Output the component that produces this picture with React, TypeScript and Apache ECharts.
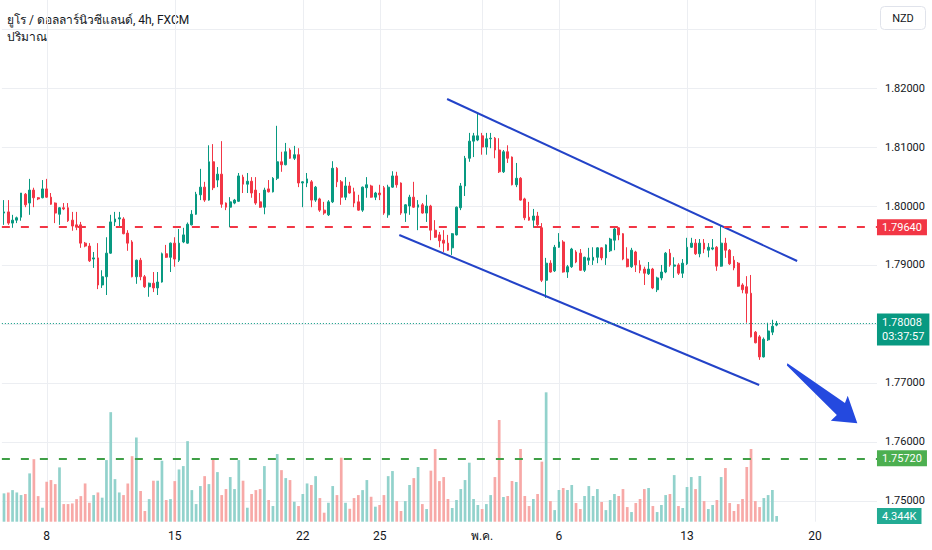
import React, { useEffect, useRef } from 'react';
import * as echarts from 'echarts';

const FONT = "Roboto, 'Noto Sans', 'DejaVu Sans', sans-serif";

const TITLE = 'ยูโร / ดอลลาร์นิวซีแลนด์, 4h, FXCM';
const VOLUME_TITLE = 'ปริมาณ';
const CURRENCY = 'NZD';

const OPEN = [1.7988,1.7990,1.7971,1.7976,1.7981,1.8020,1.8005,1.8027,1.8014,1.8014,
1.8029,1.8015,1.8005,1.7986,1.7997,1.7997,1.7976,1.7968,1.7968,1.7937,
1.7932,1.7910,1.7912,1.7866,1.7880,1.7920,1.7973,1.7978,1.7978,1.7954,
1.7939,1.7880,1.7908,1.7880,1.7863,1.7869,1.7861,1.7871,1.7919,1.7913,
1.7937,1.7908,1.7939,1.7937,1.7968,1.7986,1.8019,1.8032,1.8010,1.8075,
1.8044,1.8054,1.8005,1.7998,1.8005,1.8008,1.8049,1.8037,1.8042,1.8027,
1.8007,1.7998,1.8029,1.8024,1.8047,1.8075,1.8070,1.8095,1.8081,1.8087,
1.8039,1.8039,1.8041,1.8010,1.8012,1.7993,1.7985,1.8007,1.8064,1.8041,
1.8015,1.8034,1.8024,1.8007,1.7993,1.8031,1.8034,1.8015,1.8022,1.8031,
1.7985,1.8032,1.8051,1.8039,1.7988,1.8000,1.8015,1.7998,1.8002,1.7988,
1.8000,1.7959,1.7951,1.7942,1.7937,1.7929,1.7951,1.7997,1.8034,1.8081,
1.8110,1.8112,1.8119,1.8100,1.8114,1.8115,1.8095,1.8058,1.8092,1.8083,
1.8036,1.8047,1.8012,1.7981,1.7976,1.7983,1.7963,1.7874,1.7903,1.7890,
1.7930,1.7939,1.7888,1.7897,1.7922,1.7920,1.7891,1.7908,1.7908,1.7913,
1.7929,1.7912,1.7924,1.7942,1.7963,1.7953,1.7910,1.7897,1.7922,1.7900,
1.7893,1.7885,1.7893,1.7858,1.7878,1.7888,1.7920,1.7898,1.7900,1.7886,
1.7902,1.7930,1.7937,1.7919,1.7937,1.7925,1.7927,1.7930,1.7898,1.7937,
1.7925,1.7908,1.7903,1.7866,1.7863,1.7852,1.7786,1.7778,1.7744,1.7773,
1.7786,1.7798];

const HIGH = [1.8010,1.8010,1.7985,1.7982,1.8022,1.8022,1.8046,1.8031,1.8015,1.8044,
1.8046,1.8022,1.8006,1.7998,1.8005,1.8005,1.7990,1.7990,1.7973,1.7939,
1.7937,1.7922,1.7937,1.7891,1.7947,1.7985,1.7990,1.7990,1.7981,1.7959,
1.7942,1.7909,1.7912,1.7883,1.7870,1.7888,1.7888,1.7921,1.7934,1.7938,
1.7947,1.7961,1.7963,1.7972,1.7993,1.8024,1.8063,1.8041,1.8103,1.8105,
1.8066,1.8110,1.8006,1.8015,1.8012,1.8056,1.8053,1.8056,1.8049,1.8049,
1.8022,1.8031,1.8044,1.8049,1.8136,1.8092,1.8107,1.8098,1.8102,1.8098,
1.8042,1.8056,1.8044,1.8034,1.8014,1.8007,1.8010,1.8076,1.8066,1.8044,
1.8049,1.8041,1.8031,1.8019,1.8033,1.8049,1.8036,1.8024,1.8036,1.8034,
1.8036,1.8059,1.8058,1.8040,1.8003,1.8019,1.8041,1.8010,1.8005,1.8019,
1.8002,1.7976,1.7956,1.7959,1.7951,1.7954,1.7999,1.8039,1.8085,1.8124,
1.8124,1.8158,1.8124,1.8124,1.8124,1.8117,1.8115,1.8095,1.8103,1.8084,
1.8073,1.8049,1.8014,1.8007,1.7995,1.7990,1.7971,1.7912,1.7908,1.7934,
1.7954,1.7942,1.7900,1.7929,1.7925,1.7927,1.7914,1.7929,1.7930,1.7930,
1.7930,1.7935,1.7946,1.7963,1.7964,1.7954,1.7930,1.7929,1.7924,1.7908,
1.7897,1.7905,1.7895,1.7880,1.7900,1.7922,1.7927,1.7913,1.7903,1.7910,
1.7946,1.7946,1.7944,1.7944,1.7944,1.7937,1.7944,1.7932,1.7966,1.7946,
1.7927,1.7915,1.7905,1.7869,1.7881,1.7883,1.7788,1.7781,1.7777,1.7802,
1.7807,1.7805];

const LOW = [1.7968,1.7968,1.7963,1.7971,1.7975,1.7998,1.7985,1.7998,1.8010,1.8013,
1.8014,1.8002,1.7971,1.7968,1.7993,1.7973,1.7958,1.7959,1.7929,1.7930,
1.7905,1.7895,1.7859,1.7861,1.7849,1.7919,1.7966,1.7963,1.7952,1.7924,
1.7879,1.7868,1.7874,1.7861,1.7846,1.7854,1.7849,1.7870,1.7912,1.7888,
1.7897,1.7905,1.7937,1.7936,1.7967,1.7985,1.8010,1.8007,1.8009,1.8027,
1.8032,1.7997,1.7993,1.7964,1.8003,1.8007,1.8022,1.8022,1.8014,1.8002,
1.7997,1.7986,1.8023,1.8023,1.8044,1.8058,1.8069,1.8080,1.8078,1.8032,
1.7998,1.8032,1.7998,1.8007,1.7990,1.7985,1.7983,1.8005,1.8032,1.8002,
1.8010,1.8021,1.7998,1.7992,1.7990,1.8014,1.8014,1.8010,1.8010,1.7985,
1.7980,1.8031,1.8031,1.7985,1.7973,1.7985,1.7997,1.7959,1.7987,1.7973,
1.7942,1.7946,1.7930,1.7922,1.7924,1.7917,1.7950,1.7993,1.8017,1.8075,
1.8083,1.8110,1.8087,1.8087,1.8098,1.8081,1.8056,1.8056,1.8073,1.8035,
1.8032,1.8009,1.7976,1.7975,1.7963,1.7963,1.7871,1.7844,1.7887,1.7888,
1.7929,1.7887,1.7878,1.7895,1.7903,1.7890,1.7888,1.7900,1.7900,1.7903,
1.7908,1.7900,1.7922,1.7925,1.7942,1.7908,1.7896,1.7895,1.7888,1.7886,
1.7866,1.7883,1.7859,1.7854,1.7874,1.7886,1.7897,1.7878,1.7883,1.7878,
1.7900,1.7929,1.7917,1.7913,1.7920,1.7913,1.7925,1.7890,1.7897,1.7912,
1.7900,1.7891,1.7863,1.7852,1.7802,1.7777,1.7767,1.7739,1.7743,1.7771,
1.7781,1.7796];

const CLOSE = [1.7990,1.7971,1.7976,1.7980,1.8022,1.8002,1.8027,1.8014,1.8012,1.8029,
1.8015,1.8003,1.7988,1.7997,1.7995,1.7975,1.7966,1.7964,1.7937,1.7932,
1.7907,1.7912,1.7866,1.7880,1.7920,1.7973,1.7978,1.7980,1.7953,1.7937,
1.7880,1.7908,1.7880,1.7863,1.7869,1.7861,1.7871,1.7919,1.7913,1.7937,
1.7910,1.7937,1.7951,1.7969,1.7986,1.8020,1.8032,1.8010,1.8075,1.8031,
1.8054,1.8003,1.7998,1.8007,1.8010,1.8051,1.8037,1.8042,1.8022,1.8005,
1.7998,1.8027,1.8024,1.8047,1.8075,1.8070,1.8092,1.8081,1.8087,1.8039,
1.8041,1.8046,1.8010,1.8032,1.7993,1.7988,1.8007,1.8064,1.8041,1.8015,
1.8034,1.8022,1.8005,1.7993,1.8032,1.8036,1.8015,1.8022,1.8019,1.7988,
1.8032,1.8051,1.8036,1.7988,1.8002,1.8015,1.7998,1.8002,1.7988,1.8000,
1.7959,1.7947,1.7941,1.7937,1.7925,1.7953,1.7998,1.8034,1.8081,1.8110,
1.8119,1.8119,1.8100,1.8114,1.8115,1.8095,1.8058,1.8092,1.8081,1.8036,
1.8047,1.8010,1.7980,1.7976,1.7983,1.7968,1.7874,1.7903,1.7888,1.7930,
1.7939,1.7888,1.7897,1.7927,1.7905,1.7891,1.7913,1.7912,1.7913,1.7929,
1.7912,1.7934,1.7944,1.7961,1.7951,1.7910,1.7897,1.7925,1.7900,1.7891,
1.7886,1.7893,1.7861,1.7878,1.7888,1.7920,1.7900,1.7900,1.7886,1.7903,
1.7930,1.7937,1.7919,1.7937,1.7927,1.7930,1.7929,1.7898,1.7937,1.7925,
1.7902,1.7895,1.7864,1.7858,1.7852,1.7778,1.7768,1.7744,1.7774,1.7788,
1.7796,1.78008];

const VOLUME_K = [21.7,22.4,24.2,22.4,20.4,21.2,37.0,47.9,19.6,10.7,
30.6,31.9,28.8,41.6,13.5,13.5,14.0,17.3,19.6,29.3,
14.5,20.4,22.4,18.4,47.2,83.9,32.6,22.4,20.4,29.3,
50.2,64.5,23.5,8.2,17.3,31.4,31.4,46.7,16.6,17.3,
31.1,40.0,42.6,61.7,24.2,13.5,27.3,34.9,28.8,48.5,
38.0,20.4,25.0,34.2,25.0,47.2,31.4,10.7,21.2,24.2,
25.0,42.6,16.6,12.0,51.8,39.5,33.4,31.9,15.3,12.0,
21.2,29.3,28.1,34.9,18.1,6.9,14.5,27.3,20.4,49.0,
14.5,9.9,18.1,20.4,24.2,31.9,19.1,11.5,12.8,20.4,
34.9,38.8,15.8,8.2,15.8,28.1,33.4,41.9,13.5,9.7,
39.1,55.7,31.1,34.2,17.4,10.5,16.6,25.0,31.9,45.2,
17.4,12.8,9.7,13.5,20.4,34.2,77.9,18.9,19.7,31.1,
30.4,55.7,19.7,12.0,17.4,21.2,46.0,99.1,15.8,8.9,
24.3,25.8,24.3,28.1,14.3,9.7,19.7,27.3,19.7,25.0,
15.1,8.9,16.6,21.2,19.7,25.0,11.2,7.4,14.3,17.4,
25.0,25.8,12.0,7.4,12.8,20.4,21.2,35.7,12.0,10.5,
26.6,34.2,25.0,35.0,15.8,9.7,12.8,16.6,34.2,41.1,
14.3,8.2,13.5,17.4,41.9,55.7,15.8,11.2,18.1,20.4,
24.3,4.344];

// time slots (4h bars) on the axis, including empty future slots
const SLOT_COUNT = 205;
const DAY_LABELS = ['8', '15', '22', '25', 'พ.ค.', '6', '13', '20'];
const DAY_SLOTS = [10, 40, 70, 88, 112, 130, 160, 190];

const PRICE_MIN = 1.75;
const PRICE_MAX = 1.83;
const PRICE_STEP = 0.01;
const VOLUME_AXIS_MAX = 399.6;

const RESISTANCE = 1.7964;
const SUPPORT = 1.7572;
const LAST_PRICE = 1.78008;
const COUNTDOWN = '03:37:57';
const LAST_VOLUME_K = 4.344;

// drawings, in [slot, price]
const UPPER_CHANNEL = [[103.8, 1.81815], [185.8, 1.79067]];
const LOWER_CHANNEL = [[92.6, 1.79508], [176.9, 1.76963]];
const ARROW = [
  [183.5, 1.77332], [197.0, 1.76658], [197.65, 1.76782], [199.9, 1.76314],
  [193.7, 1.76358], [195.1, 1.76455], [183.4, 1.77294],
];

const UP = '#089981';
const DOWN = '#f23645';
const GRID_LINE = '#eceef2';
const TEXT = '#131722';
const BLUE = '#2343c8';

export default function App() {
  const ref = useRef<HTMLDivElement>(null);

  useEffect(() => {
    if (!ref.current) return;
    const chart = echarts.init(ref.current, null, { renderer: 'svg' });

    const slots = Array.from({ length: SLOT_COUNT }, (_, i) => String(i));
    const candles = OPEN.map((o, i) => [o, CLOSE[i], LOW[i], HIGH[i]]);
    const volumes = VOLUME_K.map((v, i) => ({
      value: v,
      itemStyle: { color: CLOSE[i] >= OPEN[i] ? '#92d2cc' : '#f7a9a7' },
    }));

    const gridLeft = 1.87;
    const gridWidth = 875.1;

    const boxLabel = (text: string, bg: string, extra: any = {}) => ({
      show: true,
      position: 'end',
      distance: 0,
      formatter: text,
      color: '#ffffff',
      backgroundColor: bg,
      fontFamily: FONT,
      fontSize: 11,
      lineHeight: 13,
      padding: [2, 5, 1, 5],
      opacity: 1,
      ...extra,
    });

    const option: any = {
      animation: false,
      backgroundColor: '#ffffff',
      textStyle: { fontFamily: FONT },
      grid: [
        { left: gridLeft, width: gridWidth, top: 29.15, height: 471.6, outerBoundsMode: 'none' },
        { left: gridLeft, width: gridWidth, top: 0, height: 521.7, outerBoundsMode: 'none' },
      ],
      xAxis: [
        { type: 'category', gridIndex: 0, data: slots, show: false },
        {
          type: 'category',
          gridIndex: 1,
          data: slots,
          axisLine: { show: false },
          axisTick: { show: false },
          splitLine: { show: false },
          axisLabel: {
            interval: (index: number) => DAY_SLOTS.indexOf(index) >= 0,
            formatter: (_v: string, index: number) => {
              const k = DAY_SLOTS.indexOf(index);
              return k >= 0 ? DAY_LABELS[k] : '';
            },
            color: TEXT,
            fontSize: 12,
            fontFamily: FONT,
            margin: 8,
          },
        },
        { type: 'value', gridIndex: 0, min: -0.5, max: SLOT_COUNT - 0.5, show: false },
        { type: 'value', gridIndex: 1, min: -0.5, max: SLOT_COUNT - 0.5, show: false },
      ],
      yAxis: [
        {
          type: 'value',
          gridIndex: 0,
          position: 'right',
          min: PRICE_MIN,
          max: PRICE_MAX,
          interval: PRICE_STEP,
          axisLine: { show: false },
          axisTick: { show: false },
          splitLine: { show: true, lineStyle: { color: GRID_LINE, width: 1 } },
          axisLabel: {
            showMaxLabel: false,
            margin: 8,
            color: TEXT,
            fontSize: 11,
            fontFamily: FONT,
            // the live price tag covers the scale labels beneath it
            formatter: (v: number) =>
              v > LAST_PRICE - 0.004 && v < LAST_PRICE + 0.002 ? '' : v.toFixed(5),
          },
        },
        { type: 'value', gridIndex: 1, min: 0, max: VOLUME_AXIS_MAX, show: false },
      ],
      graphic: [
        {
          type: 'text', x: 7, y: 20, silent: true,
          style: { text: TITLE, fill: TEXT, font: `12px ${FONT}`, verticalAlign: 'middle' },
        },
        {
          type: 'text', x: 7, y: 37, silent: true,
          style: { text: VOLUME_TITLE, fill: TEXT, font: `12px ${FONT}`, verticalAlign: 'middle' },
        },
        {
          type: 'rect', silent: true,
          shape: { x: 880.5, y: 6.5, width: 45, height: 23, r: 4 },
          style: { fill: '#ffffff', stroke: '#e0e3eb', lineWidth: 1 },
        },
        {
          type: 'text', x: 903, y: 18, silent: true,
          style: { text: CURRENCY, fill: TEXT, font: `11px ${FONT}`, align: 'center', verticalAlign: 'middle' },
        },
      ],
      series: [
        {
          name: 'day grid',
          type: 'custom',
          xAxisIndex: 3,
          yAxisIndex: 1,
          data: DAY_SLOTS.map((s) => [s, 0]),
          silent: true,
          z: 0,
          renderItem: (_params: any, api: any) => {
            const s = api.value(0);
            const p0 = api.coord([s, 0]);
            const p1 = api.coord([s, VOLUME_AXIS_MAX]);
            const x = Math.round(p0[0]) + 0.5;
            return {
              type: 'line',
              shape: { x1: x, y1: p0[1], x2: x, y2: p1[1] },
              style: { stroke: GRID_LINE, lineWidth: 1 },
            };
          },
        },
        {
          name: 'volume',
          type: 'bar',
          xAxisIndex: 1,
          yAxisIndex: 1,
          data: volumes,
          barWidth: 2.7,
          silent: true,
          z: 1,
          markLine: {
            silent: true,
            precision: 5,
            symbol: ['none', 'none'],
            data: [
              {
                yAxis: LAST_VOLUME_K,
                lineStyle: { color: 'rgba(0,0,0,0)', width: 1, opacity: 1 },
                label: boxLabel(`${LAST_VOLUME_K.toFixed(3)}K`, '#22ab94'),
              },
            ],
          },
        },
        {
          name: 'price',
          type: 'candlestick',
          xAxisIndex: 0,
          yAxisIndex: 0,
          data: candles,
          barWidth: 2.3,
          silent: true,
          z: 3,
          itemStyle: {
            color: UP,
            color0: DOWN,
            borderColor: UP,
            borderColor0: DOWN,
            borderWidth: 1,
          },
          markLine: {
            silent: true,
            precision: 5,
            symbol: ['none', 'none'],
            data: [
              {
                yAxis: RESISTANCE,
                lineStyle: { color: DOWN, width: 2, type: [8, 11] },
                label: boxLabel(RESISTANCE.toFixed(5), DOWN),
              },
              {
                yAxis: SUPPORT,
                lineStyle: { color: '#3f9f46', width: 2, type: [8, 11] },
                label: boxLabel(SUPPORT.toFixed(5), '#4caf50'),
              },
              {
                yAxis: LAST_PRICE,
                lineStyle: { color: UP, width: 1, type: [1, 2] },
                label: boxLabel(`${LAST_PRICE.toFixed(5)}\n${COUNTDOWN}`, UP, {
                  lineHeight: 14,
                  padding: [2, 5, 2, 5],
                  offset: [0, 6],
                }),
              },
            ],
          },
        },
        {
          name: 'upper channel',
          type: 'line',
          xAxisIndex: 2,
          yAxisIndex: 0,
          data: UPPER_CHANNEL,
          symbol: 'none',
          silent: true,
          z: 4,
          lineStyle: { color: BLUE, width: 2 },
        },
        {
          name: 'lower channel',
          type: 'line',
          xAxisIndex: 2,
          yAxisIndex: 0,
          data: LOWER_CHANNEL,
          symbol: 'none',
          silent: true,
          z: 4,
          lineStyle: { color: BLUE, width: 2 },
        },
        {
          name: 'arrow',
          type: 'custom',
          xAxisIndex: 2,
          yAxisIndex: 0,
          data: [ARROW[0]],
          silent: true,
          clip: false,
          z: 5,
          renderItem: (_params: any, api: any) => ({
            type: 'polygon',
            shape: { points: ARROW.map((p) => api.coord(p)) },
            style: { fill: '#2449df' },
          }),
        },
      ],
    };

    chart.setOption(option);
    return () => chart.dispose();
  }, []);

  return (
    <div
      ref={ref}
      style={{ position: 'fixed', left: 0, top: 0, width: 932, height: 550, background: '#ffffff' }}
    />
  );
}
